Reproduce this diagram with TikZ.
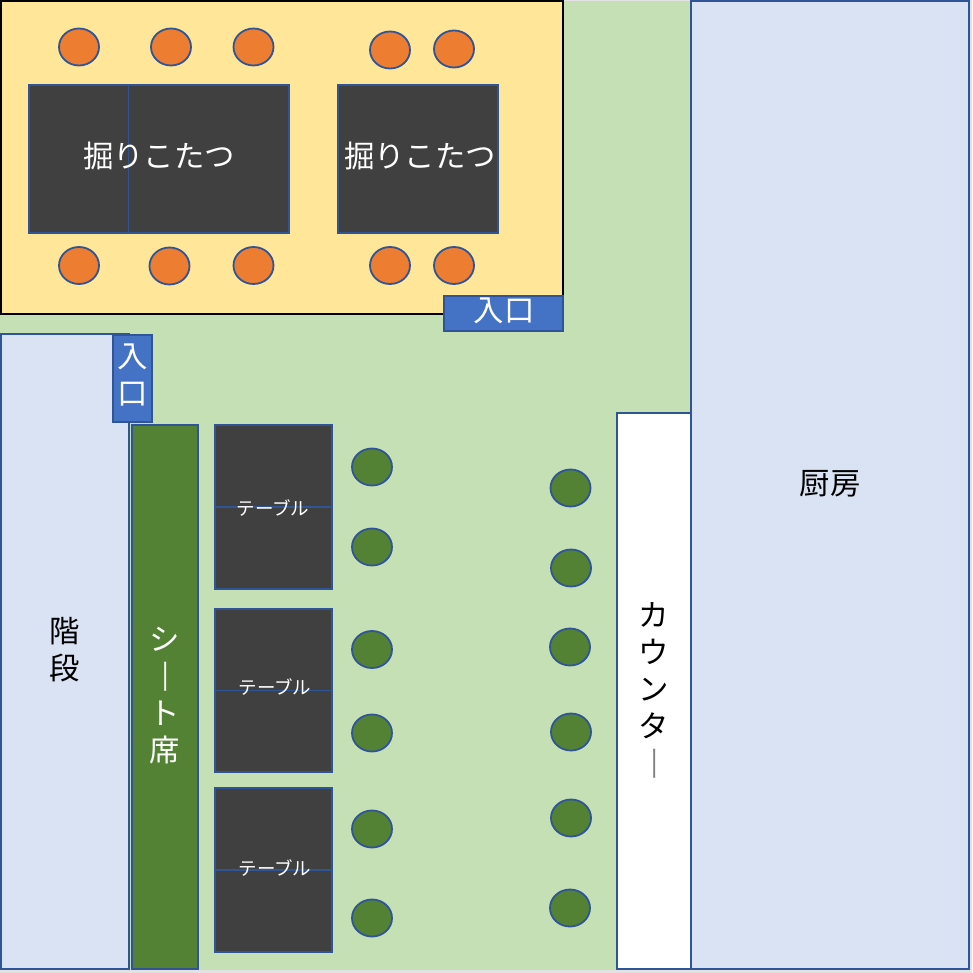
\documentclass[tikz,border=0pt]{standalone}
\usepackage{fontspec}
\usetikzlibrary{shapes}
\newfontfamily\jpfont{Noto Sans CJK JP}
\definecolor{edgeblue}{HTML}{2F5597}
\definecolor{pagegray}{HTML}{E2E2E2}
\definecolor{floorgreen}{HTML}{C5E0B4}
\definecolor{roomyellow}{HTML}{FFE699}
\definecolor{roomblue}{HTML}{DAE3F3}
\definecolor{doorblue}{HTML}{4472C4}
\definecolor{seatgreen}{HTML}{548235}
\definecolor{seatorange}{HTML}{ED7D31}
\definecolor{tablegray}{HTML}{404040}
\newcommand{\longbar}{\hspace*{-5.5pt}\raisebox{3pt}{\scalebox{0.7}[1.2]{\rotatebox[origin=c]{-90}{ー}}}}
\tikzset{
    area/.style={draw=edgeblue, line width=2pt, rectangle, inner sep=0pt, outer sep=0pt},
    tablebox/.style={area, fill=tablegray},
    doorbox/.style={area, fill=doorblue},
    stool/.style={draw=edgeblue, line width=1.8pt, ellipse, inner sep=0pt, minimum width=40pt, minimum height=37pt},
    bigtext/.style={font=\jpfont\fontsize{30.4}{37}\selectfont, align=center, inner sep=0pt},
    smalltext/.style={font=\jpfont\fontsize{18.5}{20}\selectfont, text=white, inner sep=0pt},
}

\begin{document}
\begin{tikzpicture}[x=1pt, y=-1pt]
    \useasboundingbox (0,0) rectangle (972,973);
    \fill[pagegray] (0,0) rectangle (972,973);
    \fill[floorgreen] (0,1) rectangle (969,970);

    \node[area, fill=roomblue, minimum width=278pt, minimum height=968pt] (kitchen) at (830,485) {};
    \node[area, fill=white, minimum width=74pt, minimum height=556pt] (counter) at (654,691) {};
    \node[area, fill=roomblue, minimum width=128pt, minimum height=635pt] (stairs) at (65,651.5) {};
    \node[area, fill=seatgreen, minimum width=66pt, minimum height=544pt] (bench) at (165,697) {};
    \node[area, draw=black, fill=roomyellow, minimum width=562pt, minimum height=313pt] (zashiki) at (282,157.5) {};

    \node[tablebox, minimum width=260pt, minimum height=148pt] (kotatsuA) at (159,159) {};
    \node[tablebox, minimum width=160pt, minimum height=148pt] (kotatsuB) at (418,159) {};
    \draw[edgeblue, line width=1.5pt] (128.5,85) -- (128.5,233);

    \node[doorbox, minimum width=119pt, minimum height=35pt] (doorA) at (503.5,313.5) {};
    \node[doorbox, minimum width=39pt, minimum height=87pt] (doorB) at (132.5,378.5) {};

    \node[tablebox, minimum width=117pt, minimum height=164pt] (tableA) at (273.5,507) {};
    \node[tablebox, minimum width=117pt, minimum height=163pt] (tableB) at (273.5,690.5) {};
    \node[tablebox, minimum width=117pt, minimum height=164pt] (tableC) at (273.5,870) {};
    \foreach \t in {tableA,tableB,tableC}
        \draw[edgeblue, line width=1.5pt] (\t.west) -- (\t.east);

    \foreach \n/\x/\y in {a/79/47, b/171/47, c/253.5/47, d/390/50, e/454/49,
                          f/79/265.5, g/169.5/266, h/253.5/265.5, i/390/265.5, j/454/265.5}
        \node[stool, fill=seatorange] (orange\n) at (\x,\y) {};

    \foreach \n/\x/\y in {a/372/467, b/372/547, c/372/649.5, d/372/733, e/372/829, f/372/918,
                          g/570.5/488, h/571/568, i/570/647, j/571/732, k/571/818, l/570/908}
        \node[stool, fill=seatgreen] (green\n) at (\x,\y) {};

    \node[bigtext, text=white] (labelA) at (159,156) {掘りこたつ};
    \node[bigtext, text=white] (labelB) at (420,156) {掘りこたつ};
    \node[bigtext, text=white] (labelC) at (504,311) {入口};
    \node[bigtext, text=white] (labelD) at (133,375) {入\\口};
    \node[bigtext, text=white] (labelE) at (165,696) {シ\\\longbar\\ト\\席};
    \node[bigtext] (labelF) at (65,650) {階\\段};
    \node[bigtext] (labelG) at (654,692) {カ\\ウ\\ン\\タ\\\textcolor{gray}{\longbar}};
    \node[bigtext] (labelH) at (830,484) {厨房};

    \node[smalltext] (labelI) at (273,508.5) {テーブル};
    \node[smalltext] (labelJ) at (275,687.5) {テーブル};
    \node[smalltext] (labelK) at (275,868.5) {テーブル};
\end{tikzpicture}
\end{document}
